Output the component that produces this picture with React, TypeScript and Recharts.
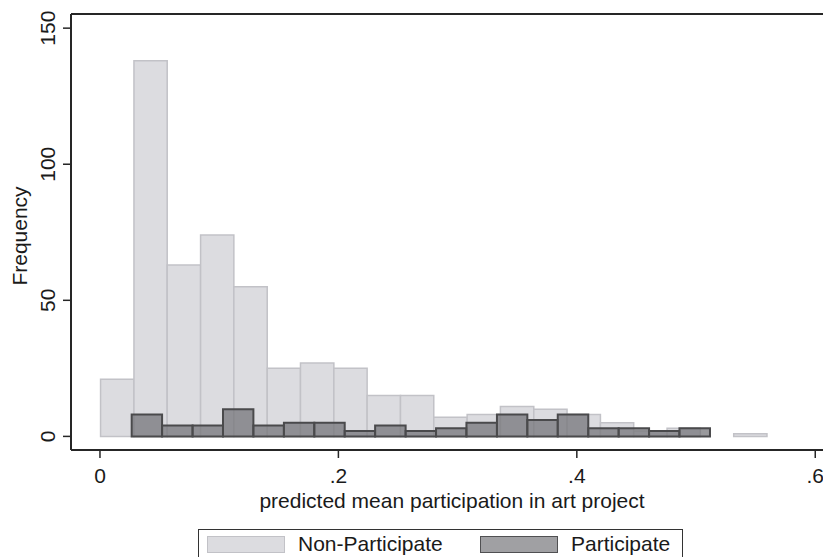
import React from 'react';
import { ComposedChart, XAxis, YAxis, ReferenceArea, ReferenceLine } from 'recharts';

// Non-Participate histogram: bin edges and frequencies
const nonPartEdges = [0.0005, 0.0285, 0.0564, 0.0844, 0.1123, 0.1403, 0.1682, 0.1962, 0.2241, 0.2521, 0.2800, 0.3080, 0.3359, 0.3639, 0.3918, 0.4198, 0.4477, 0.4757, 0.5036, 0.5316, 0.5595];
const nonPartCounts = [21, 138, 63, 74, 55, 25, 27, 25, 15, 15, 7, 8, 11, 10, 8, 5, 2, 3, 0, 1];

// Participate histogram: bin edges and frequencies
const partEdges = [0.0266, 0.0521, 0.0777, 0.1032, 0.1287, 0.1543, 0.1798, 0.2053, 0.2308, 0.2564, 0.2819, 0.3074, 0.3330, 0.3585, 0.3840, 0.4096, 0.4351, 0.4606, 0.4861, 0.5117];
const partCounts = [8, 4, 4, 10, 4, 5, 5, 2, 4, 2, 3, 5, 8, 6, 8, 3, 3, 2, 3];

const xTicks = [0, 0.2, 0.4, 0.6];
const xTickLabels = ['0', '.2', '.4', '.6'];
const yTicks = [0, 50, 100, 150];

const X_DOMAIN: [number, number] = [-0.0243, 0.6065];
const Y_DOMAIN: [number, number] = [-5, 155.2];

const FONT = '"Liberation Sans", Arial, Helvetica, sans-serif';
const AXIS_COLOR = '#262626';
const LIGHT_FILL = '#dcdce0';
const LIGHT_STROKE = '#c2c2c7';
const DARK_FILL = '#727276';
const DARK_STROKE = '#4a4a4c';

const chartData = nonPartCounts.map((c, i) => ({ x: (nonPartEdges[i] + nonPartEdges[i + 1]) / 2, y: c }));

const XTick = (props: any) => {
  const { x, y, payload } = props;
  const idx = xTicks.indexOf(payload.value);
  return (
    <text x={x} y={y} dy="0.71em" textAnchor="middle" fontFamily={FONT} fontSize={21} fill="#1a1a1a">
      {idx >= 0 ? xTickLabels[idx] : String(payload.value)}
    </text>
  );
};

const YTick = (props: any) => {
  const { x, y, payload } = props;
  return (
    <text x={x} y={y} textAnchor="middle" fontFamily={FONT} fontSize={21} fill="#1a1a1a" transform={`rotate(-90, ${x}, ${y})`}>
      {String(payload.value)}
    </text>
  );
};

const YLabel = (props: any) => {
  const vb = props.viewBox || {};
  const cx = 27;
  const cy = (vb.y ?? 14) + (vb.height ?? 436) / 2 + 4;
  return (
    <text x={cx} y={cy} textAnchor="middle" fontFamily={FONT} fontSize={21} fill="#1a1a1a" transform={`rotate(-90, ${cx}, ${cy})`}>
      Frequency
    </text>
  );
};

const XLabel = (props: any) => {
  const vb = props.viewBox || {};
  const cx = (vb.x ?? 71) + (vb.width ?? 752) / 2 + 5;
  const cy = 508;
  return (
    <text x={cx} y={cy} textAnchor="middle" fontFamily={FONT} fontSize={21} fill="#1a1a1a">
      predicted mean participation in art project
    </text>
  );
};

const legendItems = [
  { name: 'Non-Participate', fill: LIGHT_FILL, stroke: LIGHT_STROKE },
  { name: 'Participate', fill: '#a0a0a3', stroke: '#505052' },
];

export default function App() {
  return (
    <div style={{ position: 'absolute', left: 0, top: 0, width: 823, height: 557, overflow: 'hidden', background: '#fff' }}>
      <ComposedChart width={823} height={557} data={chartData} margin={{ top: 14, right: 0, bottom: 47, left: 0 }}>
        <XAxis
          dataKey="x"
          type="number"
          domain={X_DOMAIN}
          allowDataOverflow
          ticks={xTicks}
          interval={0}
          height={60}
          tickSize={8}
          tickMargin={10}
          tick={<XTick />}
          axisLine={{ stroke: AXIS_COLOR, strokeWidth: 2 }}
          tickLine={{ stroke: AXIS_COLOR, strokeWidth: 1.5 }}
          label={<XLabel />}
        />
        <YAxis
          type="number"
          domain={Y_DOMAIN}
          allowDataOverflow
          ticks={yTicks}
          interval={0}
          width={71}
          tickSize={8}
          tickMargin={8}
          tick={<YTick />}
          axisLine={{ stroke: AXIS_COLOR, strokeWidth: 2 }}
          tickLine={{ stroke: AXIS_COLOR, strokeWidth: 1.5 }}
          label={<YLabel />}
        />
        <ReferenceLine y={Y_DOMAIN[1]} stroke={AXIS_COLOR} strokeWidth={2} ifOverflow="visible" />
        {nonPartCounts.map((c, i) =>
          c > 0 ? (
            <ReferenceArea
              key={'np' + i}
              x1={nonPartEdges[i]}
              x2={nonPartEdges[i + 1]}
              y1={0}
              y2={c}
              fill={LIGHT_FILL}
              fillOpacity={1}
              stroke={LIGHT_STROKE}
              strokeWidth={1.5}
              ifOverflow="visible"
            />
          ) : null
        )}
        {partCounts.map((c, i) => (
          <ReferenceArea
            key={'p' + i}
            x1={partEdges[i]}
            x2={partEdges[i + 1]}
            y1={0}
            y2={c}
            fill={DARK_FILL}
            fillOpacity={0.72}
            stroke={DARK_STROKE}
            strokeWidth={2}
            ifOverflow="visible"
          />
        ))}
      </ComposedChart>
      <div
        style={{
          position: 'absolute',
          left: 198,
          top: 529,
          width: 485,
          height: 40,
          border: '1.5px solid #333',
          boxSizing: 'border-box',
          fontFamily: FONT,
          fontSize: 21,
          color: '#1a1a1a',
        }}
      >
        {legendItems.map((it, i) => (
          <div key={it.name} style={{ position: 'absolute', left: i === 0 ? 8 : 281, top: 4, display: 'flex', alignItems: 'center' }}>
            <div style={{ width: 78, height: 17, background: it.fill, border: `1.5px solid ${it.stroke}`, boxSizing: 'border-box' }} />
            <span style={{ marginLeft: 13, lineHeight: '20px', whiteSpace: 'nowrap' }}>{it.name}</span>
          </div>
        ))}
      </div>
    </div>
  );
}
